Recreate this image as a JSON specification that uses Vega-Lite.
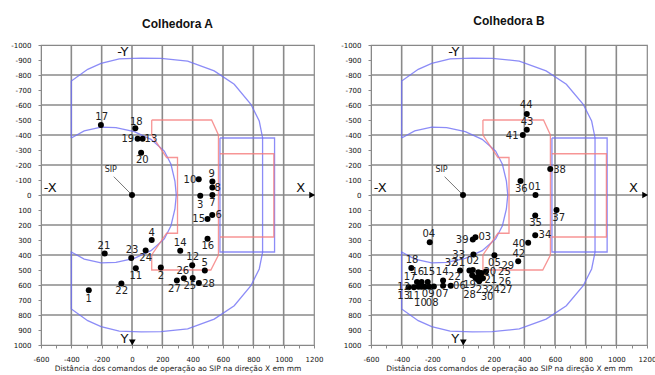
{
  "$schema": "https://vega.github.io/schema/vega-lite/v6.json",
  "padding": {"left": 10, "top": 14, "right": 2, "bottom": 2},
  "spacing": 16,
  "datasets": {
    "gridV": [
      {"x":-400,"y":-1000,"y2":1000},{"x":-200,"y":-1000,"y2":1000},{"x":0,"y":-1000,"y2":1000},{"x":200,"y":-1000,"y2":1000},
      {"x":400,"y":-1000,"y2":1000},{"x":600,"y":-1000,"y2":1000},{"x":800,"y":-1000,"y2":1000},{"x":1000,"y":-1000,"y2":1000}
    ],
    "gridH": [
      {"y":-800,"x":-600,"x2":1200},{"y":-600,"x":-600,"x2":1200},{"y":-400,"x":-600,"x2":1200},{"y":-200,"x":-600,"x2":1200},
      {"y":0,"x":-600,"x2":1200},{"y":200,"x":-600,"x2":1200},{"y":400,"x":-600,"x2":1200},{"y":600,"x":-600,"x2":1200},
      {"y":800,"x":-600,"x2":1200}
    ],
    "shapes": [
      {"shape":"outer","kind":"blue","ord":1,"x":-400,"y":-380},
      {"shape":"outer","kind":"blue","ord":2,"x":-400,"y":-760},
      {"shape":"outer","kind":"blue","ord":3,"x":-292,"y":-838},
      {"shape":"outer","kind":"blue","ord":4,"x":-204,"y":-878},
      {"shape":"outer","kind":"blue","ord":5,"x":-84,"y":-907},
      {"shape":"outer","kind":"blue","ord":6,"x":60,"y":-912},
      {"shape":"outer","kind":"blue","ord":7,"x":191,"y":-911},
      {"shape":"outer","kind":"blue","ord":8,"x":367,"y":-893},
      {"shape":"outer","kind":"blue","ord":9,"x":542,"y":-827},
      {"shape":"outer","kind":"blue","ord":10,"x":674,"y":-738},
      {"shape":"outer","kind":"blue","ord":11,"x":784,"y":-605},
      {"shape":"outer","kind":"blue","ord":12,"x":839,"y":-493},
      {"shape":"outer","kind":"blue","ord":13,"x":861,"y":-382},
      {"shape":"outer","kind":"blue","ord":14,"x":861,"y":382},
      {"shape":"outer","kind":"blue","ord":15,"x":839,"y":493},
      {"shape":"outer","kind":"blue","ord":16,"x":784,"y":605},
      {"shape":"outer","kind":"blue","ord":17,"x":674,"y":738},
      {"shape":"outer","kind":"blue","ord":18,"x":542,"y":827},
      {"shape":"outer","kind":"blue","ord":19,"x":367,"y":893},
      {"shape":"outer","kind":"blue","ord":20,"x":191,"y":911},
      {"shape":"outer","kind":"blue","ord":21,"x":60,"y":912},
      {"shape":"outer","kind":"blue","ord":22,"x":-84,"y":907},
      {"shape":"outer","kind":"blue","ord":23,"x":-204,"y":878},
      {"shape":"outer","kind":"blue","ord":24,"x":-292,"y":838},
      {"shape":"outer","kind":"blue","ord":25,"x":-400,"y":760},
      {"shape":"outer","kind":"blue","ord":26,"x":-400,"y":380},
      {"shape":"outer","kind":"blue","ord":27,"x":-315,"y":427},
      {"shape":"outer","kind":"blue","ord":28,"x":-204,"y":453},
      {"shape":"outer","kind":"blue","ord":29,"x":-106,"y":449},
      {"shape":"outer","kind":"blue","ord":30,"x":15,"y":422},
      {"shape":"outer","kind":"blue","ord":31,"x":125,"y":371},
      {"shape":"outer","kind":"blue","ord":32,"x":213,"y":293},
      {"shape":"outer","kind":"blue","ord":33,"x":257,"y":205},
      {"shape":"outer","kind":"blue","ord":34,"x":283,"y":93},
      {"shape":"outer","kind":"blue","ord":35,"x":292,"y":0},
      {"shape":"outer","kind":"blue","ord":36,"x":283,"y":-93},
      {"shape":"outer","kind":"blue","ord":37,"x":257,"y":-205},
      {"shape":"outer","kind":"blue","ord":38,"x":213,"y":-293},
      {"shape":"outer","kind":"blue","ord":39,"x":125,"y":-371},
      {"shape":"outer","kind":"blue","ord":40,"x":15,"y":-422},
      {"shape":"outer","kind":"blue","ord":41,"x":-106,"y":-449},
      {"shape":"outer","kind":"blue","ord":42,"x":-204,"y":-453},
      {"shape":"outer","kind":"blue","ord":43,"x":-315,"y":-427},
      {"shape":"outer","kind":"blue","ord":44,"x":-400,"y":-380},
      {"shape":"brect","kind":"blue","ord":1,"x":580,"y":-380},
      {"shape":"brect","kind":"blue","ord":2,"x":940,"y":-380},
      {"shape":"brect","kind":"blue","ord":3,"x":940,"y":380},
      {"shape":"brect","kind":"blue","ord":4,"x":580,"y":380},
      {"shape":"brect","kind":"blue","ord":5,"x":580,"y":-380},
      {"shape":"redL","kind":"red","ord":1,"x":130,"y":-500},
      {"shape":"redL","kind":"red","ord":2,"x":525,"y":-500},
      {"shape":"redL","kind":"red","ord":3,"x":570,"y":-400},
      {"shape":"redL","kind":"red","ord":4,"x":570,"y":400},
      {"shape":"redL","kind":"red","ord":5,"x":520,"y":500},
      {"shape":"redL","kind":"red","ord":6,"x":130,"y":500},
      {"shape":"redL","kind":"red","ord":7,"x":130,"y":400},
      {"shape":"redL","kind":"red","ord":8,"x":228,"y":255},
      {"shape":"redL","kind":"red","ord":9,"x":300,"y":255},
      {"shape":"redL","kind":"red","ord":10,"x":300,"y":-250},
      {"shape":"redL","kind":"red","ord":11,"x":228,"y":-250},
      {"shape":"redL","kind":"red","ord":12,"x":130,"y":-400},
      {"shape":"redL","kind":"red","ord":13,"x":130,"y":-500},
      {"shape":"rrect","kind":"red","ord":1,"x":580,"y":-275},
      {"shape":"rrect","kind":"red","ord":2,"x":935,"y":-275},
      {"shape":"rrect","kind":"red","ord":3,"x":935,"y":280},
      {"shape":"rrect","kind":"red","ord":4,"x":580,"y":280}
    ],
    "annot": [
      {"t":"-Y","x":-60,"y":-955},
      {"t":"Y","x":-50,"y":960},
      {"t":"-X","x":-540,"y":-45},
      {"t":"X","x":1112,"y":-50}
    ],
    "sip": [
      {"t":"SIP","x":-140,"y":-165}
    ],
    "sipline": [
      {"x":-120,"y":-122,"x2":-12,"y2":-12}
    ],
    "arrows": [
      {"dir":"down","x":2,"y":982},
      {"dir":"right","x":1188,"y":0}
    ],
    "ptsA": [
      {"id":"1","x":-285,"y":635},{"id":"2","x":190,"y":483},{"id":"3","x":450,"y":5},{"id":"4","x":130,"y":300},
      {"id":"5","x":480,"y":503},{"id":"6","x":529,"y":134},{"id":"7","x":530,"y":0},{"id":"8","x":530,"y":-50},
      {"id":"9","x":530,"y":-90},{"id":"10","x":440,"y":-105},{"id":"11","x":25,"y":488},{"id":"12","x":397,"y":468},
      {"id":"13","x":70,"y":-375},{"id":"14","x":318,"y":372},{"id":"15","x":498,"y":160},{"id":"16","x":498,"y":292},
      {"id":"17","x":-205,"y":-467},{"id":"18","x":22,"y":-445},{"id":"19","x":37,"y":-375},{"id":"20","x":60,"y":-282},
      {"id":"21","x":-180,"y":390},{"id":"22","x":-70,"y":590},{"id":"23","x":-5,"y":420},{"id":"24","x":90,"y":370},
      {"id":"25","x":400,"y":553},{"id":"26","x":342,"y":555},{"id":"27","x":296,"y":570},{"id":"28","x":441,"y":586},
      {"id":"SIP","x":0,"y":0}
    ],
    "labA": [
      {"id":"1","x":-285,"y":690},{"id":"2","x":190,"y":539},{"id":"3","x":450,"y":67},{"id":"4","x":130,"y":252},
      {"id":"5","x":480,"y":452},{"id":"6","x":571,"y":135},{"id":"7","x":530,"y":56},{"id":"8","x":565,"y":-47},
      {"id":"9","x":525,"y":-138},{"id":"10","x":382,"y":-100},{"id":"11","x":25,"y":539},{"id":"12","x":400,"y":416},
      {"id":"13","x":125,"y":-372},{"id":"14","x":318,"y":323},{"id":"15","x":440,"y":160},{"id":"16","x":500,"y":343},
      {"id":"17","x":-200,"y":-520},{"id":"18","x":28,"y":-490},{"id":"19","x":-28,"y":-372},{"id":"20","x":68,"y":-231},
      {"id":"21","x":-185,"y":340},{"id":"22","x":-68,"y":640},{"id":"23","x":0,"y":368},{"id":"24","x":90,"y":420},
      {"id":"25","x":381,"y":608},{"id":"26","x":335,"y":505},{"id":"27","x":280,"y":624},{"id":"28","x":505,"y":590}
    ],
    "ptsB": [
      {"id":"01","x":473,"y":0},{"id":"02","x":64,"y":500},{"id":"03","x":81,"y":281},{"id":"04","x":-217,"y":315},
      {"id":"05","x":205,"y":402},{"id":"06","x":-80,"y":605},{"id":"07","x":-190,"y":610},{"id":"08","x":-220,"y":612},
      {"id":"09","x":-250,"y":612},{"id":"10","x":-270,"y":612},{"id":"11","x":-290,"y":612},{"id":"12","x":-355,"y":615},
      {"id":"13","x":-320,"y":615},{"id":"14","x":-130,"y":570},{"id":"15","x":-230,"y":580},{"id":"16","x":-270,"y":580},
      {"id":"17","x":-300,"y":580},{"id":"18","x":-337,"y":487},{"id":"19","x":60,"y":535},{"id":"20","x":100,"y":515},
      {"id":"21","x":100,"y":545},{"id":"22","x":-130,"y":605},{"id":"23","x":90,"y":560},{"id":"24","x":110,"y":565},
      {"id":"25","x":120,"y":520},{"id":"26","x":120,"y":550},{"id":"27","x":130,"y":555},{"id":"28","x":80,"y":550},
      {"id":"29","x":150,"y":510},{"id":"30","x":105,"y":575},{"id":"31","x":42,"y":504},{"id":"32","x":-19,"y":504},
      {"id":"33","x":68,"y":397},{"id":"34","x":471,"y":268},{"id":"35","x":471,"y":136},{"id":"36","x":375,"y":-94},
      {"id":"37","x":610,"y":100},{"id":"38","x":569,"y":-174},{"id":"39","x":64,"y":297},{"id":"40","x":425,"y":319},
      {"id":"41","x":390,"y":-400},{"id":"42","x":360,"y":442},{"id":"43","x":416,"y":-435},{"id":"44","x":416,"y":-540},
      {"id":"SIP","x":0,"y":0}
    ],
    "labB": [
      {"id":"01","x":467,"y":-54},{"id":"02","x":64,"y":442},{"id":"03","x":142,"y":283},{"id":"04","x":-223,"y":263},
      {"id":"05","x":205,"y":453},{"id":"06","x":-23,"y":609},{"id":"07","x":-136,"y":661},{"id":"08","x":-201,"y":717},
      {"id":"09","x":-227,"y":661},{"id":"10","x":-278,"y":717},{"id":"11","x":-321,"y":676},{"id":"12","x":-387,"y":616},
      {"id":"13","x":-387,"y":676},{"id":"14","x":-136,"y":516},{"id":"15","x":-223,"y":516},{"id":"16","x":-295,"y":516},
      {"id":"17","x":-345,"y":549},{"id":"18","x":-332,"y":431},{"id":"19","x":43,"y":598},{"id":"20","x":175,"y":516},
      {"id":"21","x":181,"y":565},{"id":"22","x":-56,"y":547},{"id":"23","x":125,"y":632},{"id":"24","x":199,"y":632},
      {"id":"25","x":270,"y":516},{"id":"26","x":273,"y":580},{"id":"27","x":282,"y":632},{"id":"28","x":43,"y":665},
      {"id":"29","x":292,"y":475},{"id":"30","x":157,"y":683},{"id":"31","x":-28,"y":453},{"id":"32","x":-78,"y":453},
      {"id":"33","x":-28,"y":397},{"id":"34","x":534,"y":268},{"id":"35","x":473,"y":185},{"id":"36","x":380,"y":-38},
      {"id":"37","x":624,"y":152},{"id":"38","x":630,"y":-170},{"id":"39","x":-5,"y":300},{"id":"40","x":364,"y":324},
      {"id":"41","x":321,"y":-395},{"id":"42","x":364,"y":393},{"id":"43","x":418,"y":-487},{"id":"44","x":412,"y":-603}
    ]
  },
  "hconcat": [
    {
      "title": {"text": "Colhedora A", "offset": 10},
      "width": 273, "height": 300,
      "encoding": {
        "x": {"field": "x", "type": "quantitative", "title": "Distância dos comandos de operação ao SIP na direção X em mm", "scale": {"domain": [-600, 1200], "nice": false, "zero": false},
              "axis": {"values": [-600,-500,-400,-300,-200,-100,0,100,200,300,400,500,600,700,800,900,1000,1100,1200], "labelExpr": "datum.value % 200 == 0 ? '' + datum.value : ''", "grid": false, "labelOverlap": false}},
        "y": {"field": "y", "type": "quantitative", "title": null, "scale": {"domain": [-1000, 1000], "nice": false, "zero": false, "reverse": true},
              "axis": {"values": [-1000,-900,-800,-700,-600,-500,-400,-300,-200,-100,0,100,200,300,400,500,600,700,800,900,1000], "labelExpr": "'' + datum.value", "grid": false, "labelOverlap": false}}
      },
      "layer": [
        {"data": {"name": "gridV"}, "mark": {"type": "rule", "color": "#8a8a8a", "strokeWidth": 1.6}, "encoding": {"y2": {"field": "y2"}}},
        {"data": {"name": "gridH"}, "mark": {"type": "rule", "color": "#8a8a8a", "strokeWidth": 1.6}, "encoding": {"x2": {"field": "x2"}}},
        {
          "data": {"name": "shapes"},
          "mark": {"type": "line", "strokeWidth": 1.3, "opacity": 0.8},
          "encoding": {
            "detail": {"field": "shape"},
            "order": {"field": "ord", "type": "quantitative"},
            "color": {"field": "kind", "type": "nominal", "scale": {"domain": ["blue","red"], "range": ["#6f6ff5","#f57a7a"]}, "legend": null}
          }
        },
        {
          "data": {"name": "sipline"},
          "mark": {"type": "rule", "color": "#777", "strokeWidth": 1},
          "encoding": {"x2": {"field": "x2"}, "y2": {"field": "y2"}}
        },
        {
          "data": {"name": "sip"},
          "mark": {"type": "text", "fontSize": 8, "font": "DejaVu Sans", "color": "#222"},
          "encoding": {"text": {"field": "t"}}
        },
        {
          "data": {"name": "ptsA"},
          "mark": {"type": "circle", "size": 36, "opacity": 1, "color": "#000"},
          "encoding": {}
        },
        {
          "data": {"name": "labA"},
          "mark": {"type": "text", "fontSize": 10, "font": "DejaVu Sans", "color": "#222"},
          "encoding": {"text": {"field": "id"}}
        },
        {
          "data": {"name": "annot"},
          "mark": {"type": "text", "fontSize": 13, "font": "DejaVu Sans", "color": "#111"},
          "encoding": {"text": {"field": "t"}}
        },
        {
          "data": {"name": "arrows"},
          "mark": {"type": "point", "filled": true, "size": 45, "color": "#000", "opacity": 1},
          "encoding": {"shape": {"field": "dir", "type": "nominal", "scale": {"domain": ["down","right"], "range": ["triangle-down","triangle-right"]}, "legend": null}}
        }
      ]
    },
    {
      "title": {"text": "Colhedora B", "offset": 13},
      "width": 276, "height": 300,
      "encoding": {
        "x": {"field": "x", "type": "quantitative", "title": "Distância dos comandos de operação ao SIP na direção X em mm", "scale": {"domain": [-600, 1200], "nice": false, "zero": false},
              "axis": {"values": [-600,-500,-400,-300,-200,-100,0,100,200,300,400,500,600,700,800,900,1000,1100,1200], "labelExpr": "datum.value % 200 == 0 ? '' + datum.value : ''", "grid": false, "labelOverlap": false}},
        "y": {"field": "y", "type": "quantitative", "title": null, "scale": {"domain": [-1000, 1000], "nice": false, "zero": false, "reverse": true},
              "axis": {"values": [-1000,-900,-800,-700,-600,-500,-400,-300,-200,-100,0,100,200,300,400,500,600,700,800,900,1000], "labelExpr": "'' + datum.value", "grid": false, "labelOverlap": false}}
      },
      "layer": [
        {"data": {"name": "gridV"}, "mark": {"type": "rule", "color": "#8a8a8a", "strokeWidth": 1.6}, "encoding": {"y2": {"field": "y2"}}},
        {"data": {"name": "gridH"}, "mark": {"type": "rule", "color": "#8a8a8a", "strokeWidth": 1.6}, "encoding": {"x2": {"field": "x2"}}},
        {
          "data": {"name": "shapes"},
          "mark": {"type": "line", "strokeWidth": 1.3, "opacity": 0.8},
          "encoding": {
            "detail": {"field": "shape"},
            "order": {"field": "ord", "type": "quantitative"},
            "color": {"field": "kind", "type": "nominal", "scale": {"domain": ["blue","red"], "range": ["#6f6ff5","#f57a7a"]}, "legend": null}
          }
        },
        {
          "data": {"name": "sipline"},
          "mark": {"type": "rule", "color": "#777", "strokeWidth": 1},
          "encoding": {"x2": {"field": "x2"}, "y2": {"field": "y2"}}
        },
        {
          "data": {"name": "sip"},
          "mark": {"type": "text", "fontSize": 8, "font": "DejaVu Sans", "color": "#222"},
          "encoding": {"text": {"field": "t"}}
        },
        {
          "data": {"name": "ptsB"},
          "mark": {"type": "circle", "size": 36, "opacity": 1, "color": "#000"},
          "encoding": {}
        },
        {
          "data": {"name": "labB"},
          "mark": {"type": "text", "fontSize": 10, "font": "DejaVu Sans", "color": "#222"},
          "encoding": {"text": {"field": "id"}}
        },
        {
          "data": {"name": "annot"},
          "mark": {"type": "text", "fontSize": 13, "font": "DejaVu Sans", "color": "#111"},
          "encoding": {"text": {"field": "t"}}
        },
        {
          "data": {"name": "arrows"},
          "mark": {"type": "point", "filled": true, "size": 45, "color": "#000", "opacity": 1},
          "encoding": {"shape": {"field": "dir", "type": "nominal", "scale": {"domain": ["down","right"], "range": ["triangle-down","triangle-right"]}, "legend": null}}
        }
      ]
    }
  ],
  "config": {
    "view": {"stroke": "#888", "strokeWidth": 1.2},
    "axis": {"domain": true, "ticks": true, "domainColor": "#888", "tickColor": "#888", "tickSize": 3,
             "labelFont": "DejaVu Sans", "labelFontSize": 7, "labelColor": "#111", "labelPadding": 7, "labelFlush": false,
             "titleFont": "DejaVu Sans", "titleFontSize": 7.5, "titleFontWeight": "normal", "titleColor": "#222", "titlePadding": 2},
    "title": {"font": "Liberation Sans", "fontSize": 12, "fontWeight": "bold", "color": "#111", "anchor": "middle"}
  }
}
